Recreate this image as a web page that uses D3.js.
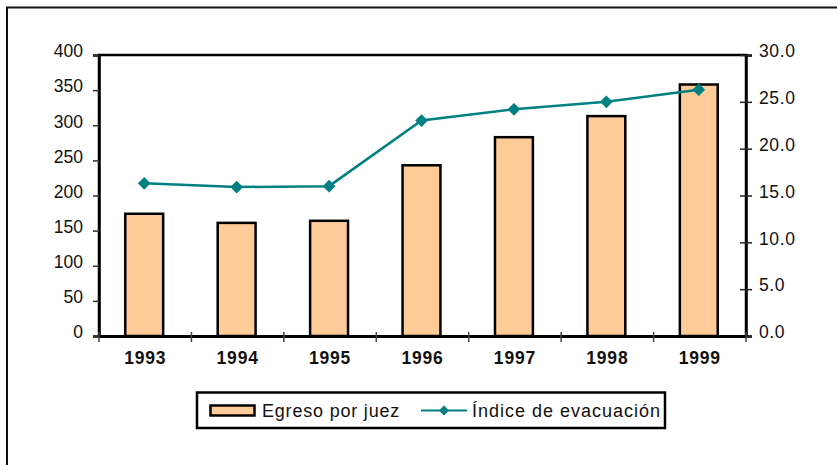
<!DOCTYPE html>
<html>
<head>
<meta charset="utf-8">
<script src="https://cdn.jsdelivr.net/npm/d3@7"></script>
<style>
  html, body { margin: 0; padding: 0; background: #fff; }
  svg { display: block; font-family: "Liberation Sans", Arial, sans-serif; }
</style>
</head>
<body>
<svg id="chart" width="837" height="465"></svg>
<script>
const years = ["1993", "1994", "1995", "1996", "1997", "1998", "1999"];
const egreso = [174, 161, 164, 243, 283, 313, 358];
const indice = [16.3, 15.9, 16.0, 23.0, 24.2, 25.0, 26.3];
const leftTicks = [0, 50, 100, 150, 200, 250, 300, 350, 400];
const rightTicks = [0, 5, 10, 15, 20, 25, 30];
const seriesNames = ["Egreso por juez", "Índice de evacuación"];

const svg = d3.select("#chart");
const L = 99, R = 746, T = 55, B = 336;
const barFill = "#FFCC99", lineColor = "#008080";

// outer frame
svg.append("path").attr("d", `M7,470 V7.5 H840`).attr("fill", "none")
  .attr("stroke", "#111").attr("stroke-width", 2);

const x = d3.scaleBand().domain(years).range([L, R]).padding(0);
const yL = d3.scaleLinear().domain([0, 400]).range([B, T]);
const yR = d3.scaleLinear().domain([0, 30]).range([B, T]);
const bw = x.bandwidth() * 0.41;

// bars
svg.append("g").selectAll("rect").data(years).join("rect")
  .attr("x", (d) => x(d) + x.bandwidth() / 2 - bw / 2 - 1)
  .attr("y", (d, i) => yL(egreso[i]))
  .attr("width", bw)
  .attr("height", (d, i) => B - yL(egreso[i]))
  .attr("fill", barFill).attr("stroke", "#000").attr("stroke-width", 2.5);

// plot frame
svg.append("path").attr("d", `M${L},${B} V${T} H${R} V${B}`).attr("fill", "none")
  .attr("stroke", "#000").attr("stroke-width", 2.5);

// left axis
const gL = svg.append("g").attr("transform", `translate(${L},0)`)
  .call(d3.axisLeft(yL).tickValues(leftTicks).tickSize(6).tickPadding(10));
gL.select(".domain").attr("stroke", "#000").attr("stroke-width", 2.5);
gL.selectAll(".tick line").attr("stroke", "#333").attr("stroke-width", 1.5);
gL.selectAll(".tick text").attr("font-size", 17.5).attr("fill", "#111")
  .attr("font-family", "Liberation Sans, Arial, sans-serif").attr("dy", "0.1em");

// right axis
const gR = svg.append("g").attr("transform", `translate(${R},0)`)
  .call(d3.axisRight(yR).tickValues(rightTicks).tickFormat(d3.format(".1f")).tickSize(6).tickPadding(7));
gR.select(".domain").attr("stroke", "#000").attr("stroke-width", 2.5);
gR.selectAll(".tick line").attr("x1", -6).attr("stroke", "#222").attr("stroke-width", 1.5);
gR.selectAll(".tick text").attr("font-size", 17.5).attr("fill", "#111")
  .attr("letter-spacing", "0.6px")
  .attr("font-family", "Liberation Sans, Arial, sans-serif").attr("dy", "0.1em");

// bottom axis
const gB = svg.append("g").attr("transform", `translate(0,${B})`)
  .call(d3.axisBottom(x).tickSize(0).tickPadding(16));
gB.select(".domain").attr("stroke", "#000").attr("stroke-width", 3);
gB.selectAll(".tick text").attr("font-size", 17.5).attr("font-weight", "bold").attr("fill", "#111")
  .attr("letter-spacing", "0.8px")
  .attr("font-family", "Liberation Sans, Arial, sans-serif");
const bounds = years.map((d) => x(d)).concat([x(years[years.length - 1]) + x.step()]);
gB.append("g").selectAll("line").data(bounds).join("line")
  .attr("x1", (d) => d).attr("x2", (d) => d).attr("y1", -4).attr("y2", 6)
  .attr("stroke", "#444").attr("stroke-width", 1.5);

// line series
const cx = (d) => x(d) + x.bandwidth() / 2 - 1;
const line = d3.line().x((d, i) => cx(years[i])).y((d) => yR(d));
svg.append("path").datum(indice).attr("d", line).attr("fill", "none")
  .attr("stroke", lineColor).attr("stroke-width", 2.5);
const sym = d3.symbol(d3.symbolSquare, 80);
svg.append("g").selectAll("path").data(indice).join("path")
  .attr("d", sym)
  .attr("transform", (d, i) => `translate(${cx(years[i])},${yR(d)}) rotate(45)`)
  .attr("fill", lineColor);

// legend
const lg = svg.append("g");
lg.append("rect").attr("x", 197).attr("y", 392.5).attr("width", 468).attr("height", 35.5)
  .attr("fill", "#fff").attr("stroke", "#000").attr("stroke-width", 2.5);
lg.append("rect").attr("x", 210.5).attr("y", 405.5).attr("width", 44).attr("height", 10)
  .attr("fill", barFill).attr("stroke", "#000").attr("stroke-width", 2.5);
lg.append("text").attr("x", 262).attr("y", 417).text(seriesNames[0])
  .attr("font-size", 18).attr("letter-spacing", "0.8px").attr("fill", "#111");
lg.append("line").attr("x1", 421).attr("x2", 467).attr("y1", 410.5).attr("y2", 410.5)
  .attr("stroke", lineColor).attr("stroke-width", 2);
lg.append("path").attr("d", d3.symbol(d3.symbolSquare, 50)())
  .attr("transform", "translate(444,410.5) rotate(45)").attr("fill", lineColor);
lg.append("text").attr("x", 472).attr("y", 417).text(seriesNames[1])
  .attr("font-size", 18).attr("letter-spacing", "1px").attr("fill", "#111");
</script>
</body>
</html>
